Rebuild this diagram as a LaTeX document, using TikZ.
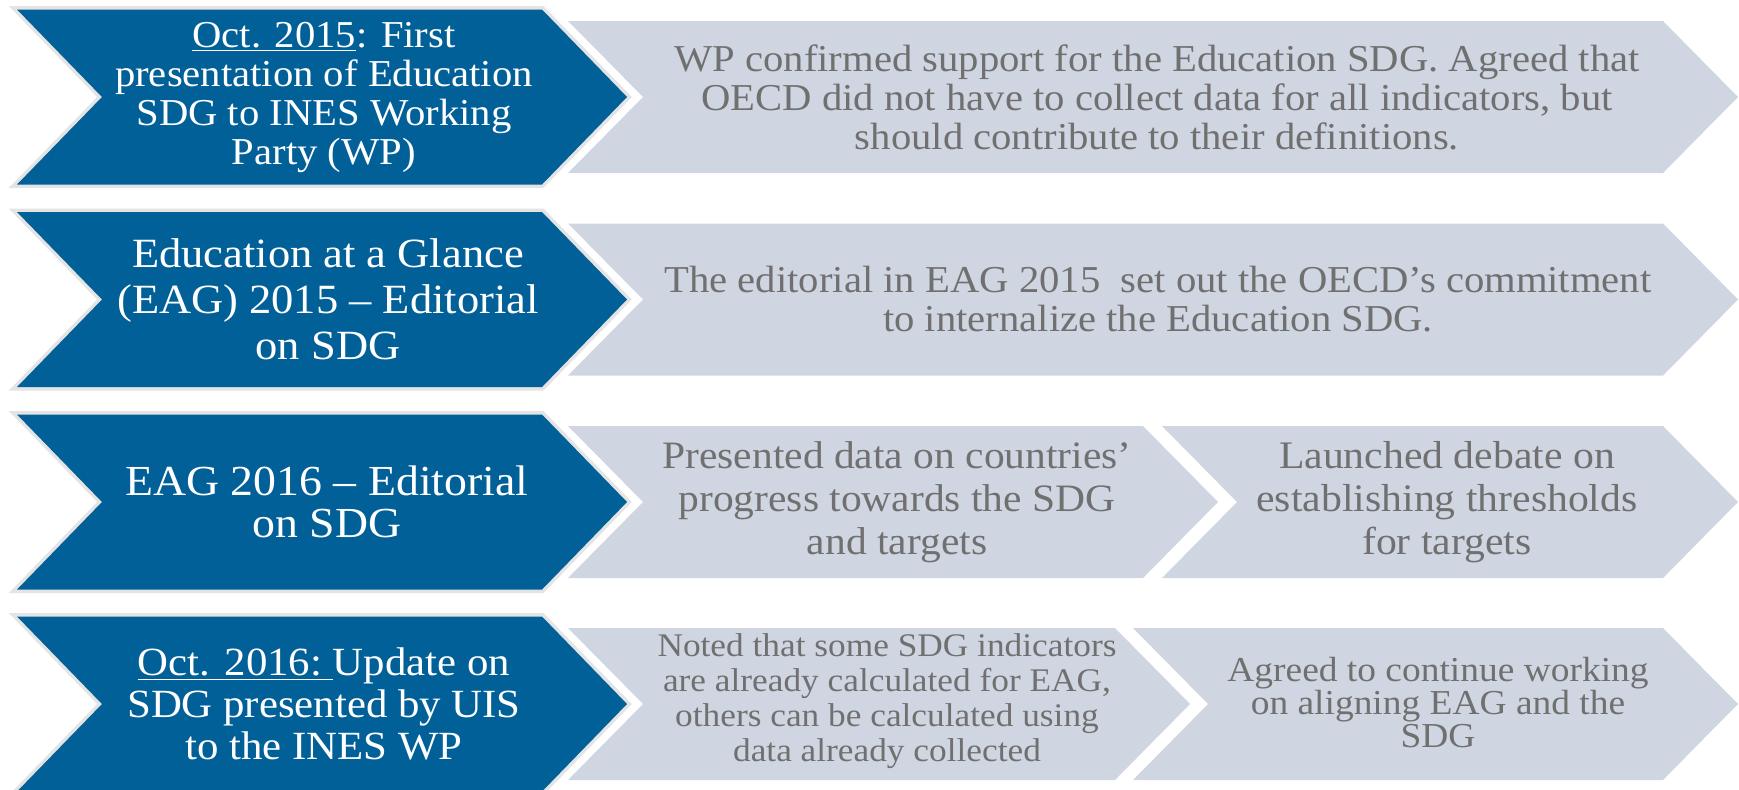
\documentclass[tikz,border=0pt]{standalone}
\usepackage{fontspec}
\setmainfont{Liberation Serif}[FakeStretch=1.07]
\usepackage{xcolor}
\usepackage{tikz}

\definecolor{oecdblue}{RGB}{2,96,153}
\definecolor{rimgray}{RGB}{228,228,228}
\definecolor{panelgray}{RGB}{207,214,226}
\definecolor{textgray}{RGB}{112,112,112}

\begin{document}
\begin{tikzpicture}[
    x=0.5pt, y=-0.5pt,
    bluechev/.style={fill=oecdblue, preaction={draw=rimgray, line width=3.5pt, line join=miter}},
    graychev/.style={fill=panelgray},
    bluetext/.style={text=white, align=center, inner sep=0pt},
    graytext/.style={text=textgray, align=center, inner sep=0pt}
]
\useasboundingbox (0,0) rectangle (1739,789);

% Milestones (blue chevrons)
\foreach \y in {97, 299.5, 502, 704} {
    \path[bluechev] (17,\y-87.5) -- (542,\y-87.5) -- (627,\y) -- (542,\y+87.5)
        -- (17,\y+87.5) -- (102,\y) -- cycle;
}

% Outcomes (gray chevrons): row centre / left edge / tip
\foreach \y/\l/\r in {97/568/1738, 299.5/568/1738, 502/568/1218, 502/1162/1738,
                      704/568/1190, 704/1133/1738} {
    \path[graychev] (\l,\y-76) -- (\r-75,\y-76) -- (\r,\y) -- (\r-75,\y+76)
        -- (\l,\y+76) -- (\l+75,\y) -- cycle;
}

% Row 1
\node[bluetext, font=\fontsize{19}{19.5}\selectfont] (wp15) at (324,97)
    {\underline{Oct. 2015}: First\\presentation of Education\\SDG to INES Working\\Party (WP)};
\node[graytext, font=\fontsize{19}{19.5}\selectfont] (support) at (1157,97)
    {WP confirmed support for the Education SDG. Agreed that\\OECD did not have to collect data for all indicators, but\\should contribute to their definitions.};

% Row 2
\node[bluetext, font=\fontsize{20.8}{23}\selectfont] (eag15) at (328,299.5)
    {Education at a Glance\\(EAG) 2015 -- Editorial\\on SDG};
\node[graytext, font=\fontsize{19}{19.5}\selectfont] (commit) at (1158,299.5)
    {The editorial in EAG 2015~ set out the OECD’s commitment\\to internalize the Education SDG.};

% Row 3
\node[bluetext, font=\fontsize{21.4}{21}\selectfont] (eag16) at (327,502)
    {EAG 2016 -- Editorial\\on SDG};
\node[graytext, font=\fontsize{19.4}{21.5}\selectfont] (progress) at (897,502)
    {Presented data on countries’\\progress towards the SDG\\and targets};
\node[graytext, font=\fontsize{19.5}{21.5}\selectfont] (thresh) at (1447,502)
    {Launched debate on\\establishing thresholds\\for targets};

% Row 4
\node[bluetext, font=\fontsize{20}{21}\selectfont] (uis16) at (324,704)
    {\underline{Oct. 2016:\ }Update on\\SDG presented by UIS\\to the INES WP};
\node[graytext, font=\fontsize{16.5}{17.5}\selectfont] (calc) at (887,701)
    {Noted that some SDG indicators\\are already calculated for EAG,\\others can be calculated using\\data already collected};
\node[graytext, font=\fontsize{17.5}{16.5}\selectfont] (align) at (1438,703)
    {Agreed to continue working\\on aligning EAG and the\\SDG};

\end{tikzpicture}
\end{document}
